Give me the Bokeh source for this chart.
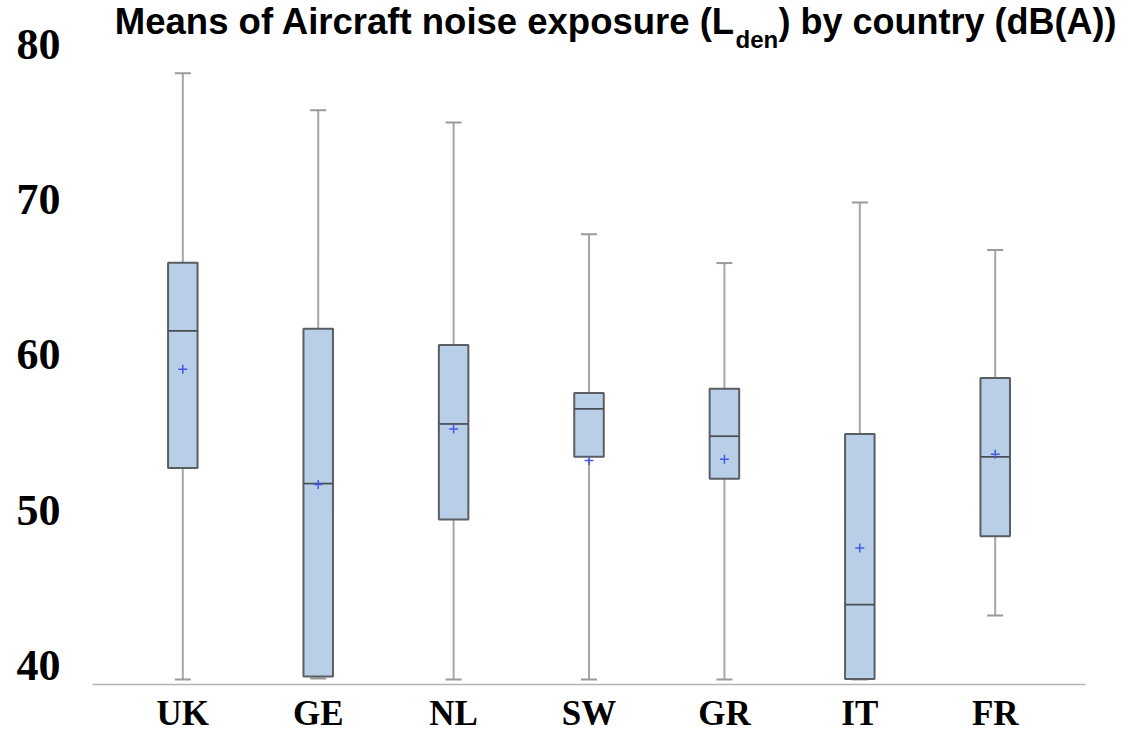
from bokeh.plotting import figure
from bokeh.models import Range1d, ColumnDataSource, Label, FixedTicker
from bokeh.embed import file_html
from bokeh.resources import INLINE

# ---- data (dB(A)) ----
countries = ["UK", "GE", "NL", "SW", "GR", "IT", "FR"]
upper_whisker = [78.14, 75.76, 74.98, 67.78, 65.92, 69.82, 66.77]
q3 = [65.94, 61.69, 60.64, 57.56, 57.83, 54.92, 58.52]
median = [61.56, 51.72, 55.56, 56.53, 54.77, 43.92, 53.44]
mean = [59.08, 51.66, 55.24, 53.20, 53.29, 47.57, 53.61]
q1 = [52.73, 39.29, 49.41, 53.44, 52.03, 39.14, 48.33]
lower_whisker = [39.10, 39.16, 39.10, 39.10, 39.10, 39.10, 43.22]
y_ticks = [40, 50, 60, 70, 80]

pos = list(range(len(countries)))
src = ColumnDataSource(dict(x=pos, country=countries, upper=upper_whisker, q3=q3,
                            med=median, mean=mean, q1=q1, lower=lower_whisker))

p = figure(width=1140, height=735,
           x_range=Range1d(-0.667, 7.073),
           y_range=Range1d(38.78, 82.83),
           output_backend="svg", toolbar_location=None, title=None,
           min_border_left=92, min_border_right=0,
           min_border_top=0, min_border_bottom=50)

p.background_fill_color = "white"
p.border_fill_color = "white"
p.outline_line_color = None
p.xgrid.visible = False
p.ygrid.visible = False

# whiskers
p.segment(x0="x", y0="q3", x1="x", y1="upper", source=src,
          line_color="#a6a6a6", line_width=2)
p.segment(x0="x", y0="q1", x1="x", y1="lower", source=src,
          line_color="#a6a6a6", line_width=2)
p.scatter(x="x", y="upper", source=src, marker="dash", size=16,
          line_color="#9a9a9a", line_width=2)
p.scatter(x="x", y="lower", source=src, marker="dash", size=16,
          line_color="#9a9a9a", line_width=2)

# boxes
p.vbar(x="x", width=0.218, top="q3", bottom="q1", source=src,
       fill_color="#b9cfe8", line_color="#5a5e63", line_width=2)
p.scatter(x="x", y="med", source=src, marker="dash", size=29,
          line_color="#474c52", line_width=1.7)
p.scatter(x="x", y="mean", source=src, marker="cross", size=9,
          line_color="#4558e6", line_width=1.5)

# axes
p.yaxis.ticker = FixedTicker(ticks=y_ticks)
p.yaxis.axis_line_color = None
p.yaxis.major_tick_line_color = None
p.yaxis.minor_tick_line_color = None
p.yaxis.major_tick_out = 0
p.yaxis.major_tick_in = 0
p.yaxis.major_label_standoff = 32
p.yaxis.major_label_text_font = "Liberation Serif"
p.yaxis.major_label_text_font_style = "bold"
p.yaxis.major_label_text_font_size = "44px"
p.yaxis.major_label_text_color = "black"

p.xaxis.ticker = FixedTicker(ticks=pos)
p.xaxis.major_label_overrides = {i: c for i, c in zip(pos, countries)}
p.xaxis.bounds = (-0.667, 6.667)
p.xaxis.axis_line_color = "#b4b4b4"
p.xaxis.axis_line_width = 1.5
p.xaxis.major_tick_line_color = None
p.xaxis.minor_tick_line_color = None
p.xaxis.major_tick_out = 0
p.xaxis.major_tick_in = 0
p.xaxis.major_label_standoff = 9
p.xaxis.major_label_text_font = "Liberation Serif"
p.xaxis.major_label_text_font_style = "bold"
p.xaxis.major_label_text_font_size = "35px"
p.xaxis.major_label_text_color = "black"

# title with subscript
tkw = dict(x_units="screen", y_units="screen", text_font="Liberation Sans",
           text_font_style="bold", text_color="black", text_baseline="alphabetic")
p.add_layout(Label(x=643, y=663, text="Means of Aircraft noise exposure (L",
                   text_align="right", text_font_size="36.5px", **tkw))
p.add_layout(Label(x=643, y=645, text="den", text_align="left",
                   text_font_size="24px", **tkw))
p.add_layout(Label(x=686, y=663, text=") by country (dB(A))", text_align="left",
                   text_font_size="36px", **tkw))

open("out.html", "w").write(file_html(p, INLINE))
